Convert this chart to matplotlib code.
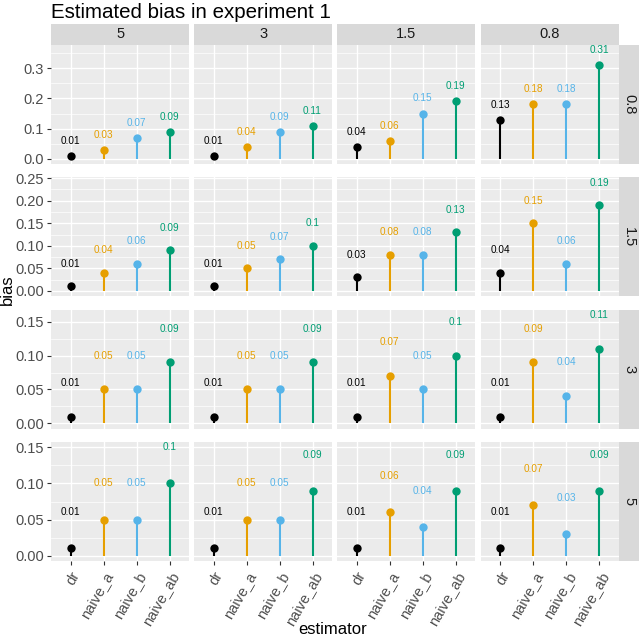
import matplotlib
matplotlib.use("Agg")
import matplotlib.pyplot as plt
from matplotlib.ticker import MultipleLocator, FormatStrFormatter

plt.rcParams['font.family'] = ['Liberation Sans', 'DejaVu Sans']

# ---- data ----
title = "Estimated bias in experiment 1"
row_labels = ["0.8", "1.5", "3", "5"]
col_labels = ["5", "3", "1.5", "0.8"]
estimators = ["dr", "naive_a", "naive_b", "naive_ab"]
colors = ["#000000", "#E69F00", "#56B4E9", "#009E73"]

# bias[row][col] -> values for estimators dr, naive_a, naive_b, naive_ab
bias_row_08 = [[0.01, 0.03, 0.07, 0.09],
               [0.01, 0.04, 0.09, 0.11],
               [0.04, 0.06, 0.15, 0.19],
               [0.13, 0.18, 0.18, 0.31]]
bias_row_15 = [[0.01, 0.04, 0.06, 0.09],
               [0.01, 0.05, 0.07, 0.10],
               [0.03, 0.08, 0.08, 0.13],
               [0.04, 0.15, 0.06, 0.19]]
bias_row_3 = [[0.01, 0.05, 0.05, 0.09],
              [0.01, 0.05, 0.05, 0.09],
              [0.01, 0.07, 0.05, 0.10],
              [0.01, 0.09, 0.04, 0.11]]
bias_row_5 = [[0.01, 0.05, 0.05, 0.10],
              [0.01, 0.05, 0.05, 0.09],
              [0.01, 0.06, 0.04, 0.09],
              [0.01, 0.07, 0.03, 0.09]]
bias = [bias_row_08, bias_row_15, bias_row_3, bias_row_5]

label_nudge = 0.05
row_major = [0.1, 0.05, 0.05, 0.05]
row_fmt = ["%.1f", "%.2f", "%.2f", "%.2f"]

# ---- layout (pixels) ----
W, H = 640, 638
col_left = [51, 194, 337, 480.7]
col_w = 138.3
row_top = [45, 177.3, 309.7, 442]
row_h = 119

def rect(x, y, w, h):
    return [x / W, 1 - (y + h) / H, w / W, h / H]

fig = plt.figure(figsize=(W / 100, H / 100), dpi=100)

panel_bg = "#EBEBEB"
strip_bg = "#D9D9D9"

for r in range(4):
    vmax = max(max(v) for v in bias[r]) + label_nudge
    lo, hi = -0.05 * vmax, vmax * 1.05
    for c in range(4):
        ax = fig.add_axes(rect(col_left[c], row_top[r], col_w, row_h))
        ax.set_facecolor(panel_bg)
        for s in ax.spines.values():
            s.set_visible(False)
        vals = bias[r][c]
        xs = list(range(len(estimators)))
        for i, v in enumerate(vals):
            ax.plot([xs[i], xs[i]], [0, v], color=colors[i], lw=1.5,
                    solid_capstyle='butt', zorder=2)
            ax.scatter([xs[i]], [v], s=36, color=colors[i], zorder=3,
                       linewidths=0)
            ax.text(xs[i], v + label_nudge, f"{v:g}", color=colors[i],
                    ha='center', va='center', fontsize=7.2, zorder=4)
        ax.set_xlim(-0.6, 3.6)
        ax.set_ylim(lo, hi)
        ax.set_xticks(xs)
        ax.yaxis.set_major_locator(MultipleLocator(row_major[r]))
        ax.yaxis.set_minor_locator(MultipleLocator(row_major[r] / 2))
        ax.yaxis.set_major_formatter(FormatStrFormatter(row_fmt[r]))
        ax.grid(which='major', axis='both', color='white', lw=1.0, zorder=0)
        ax.grid(which='minor', axis='y', color='white', lw=0.5, zorder=0)
        ax.set_axisbelow(True)
        ax.tick_params(axis='both', which='minor', length=0)
        if c == 0:
            ax.tick_params(axis='y', which='major', length=3, color='#333333',
                           labelcolor='#4D4D4D', labelsize=10.5, pad=2)
        else:
            ax.tick_params(axis='y', which='major', length=0, labelleft=False)
        if r == 3:
            ax.set_xticklabels(estimators, rotation=60, ha='right', va='top',
                               rotation_mode='anchor')
            ax.tick_params(axis='x', which='major', length=3, color='#333333',
                           labelcolor='#4D4D4D', labelsize=10.5, pad=3)
        else:
            ax.tick_params(axis='x', which='major', length=0, labelbottom=False)

# top strips
for c in range(4):
    sax = fig.add_axes(rect(col_left[c], 24, col_w, 21))
    sax.set_facecolor(strip_bg)
    sax.set_xticks([]); sax.set_yticks([])
    for s in sax.spines.values():
        s.set_visible(False)
    sax.text(0.5, 0.5, col_labels[c], ha='center', va='center',
             fontsize=10.5, color='#1A1A1A', transform=sax.transAxes)

# right strips
for r in range(4):
    sax = fig.add_axes(rect(619, row_top[r], 20, row_h))
    sax.set_facecolor(strip_bg)
    sax.set_xticks([]); sax.set_yticks([])
    for s in sax.spines.values():
        s.set_visible(False)
    sax.text(0.5, 0.5, row_labels[r], ha='center', va='center', rotation=-90,
             fontsize=10.5, color='#1A1A1A', transform=sax.transAxes)

fig.text(51 / W, 1 - 18 / H, title, ha='left', va='baseline', fontsize=14.8,
         color='black')
fig.text(333 / W, 1 - 629 / H, "estimator", ha='center',
         va='center', fontsize=12, color='black')
fig.text(7 / W, 1 - 290 / H, "bias", ha='center', va='center', rotation=90,
         fontsize=12, color='black')

fig.savefig("out.png", dpi=100)
